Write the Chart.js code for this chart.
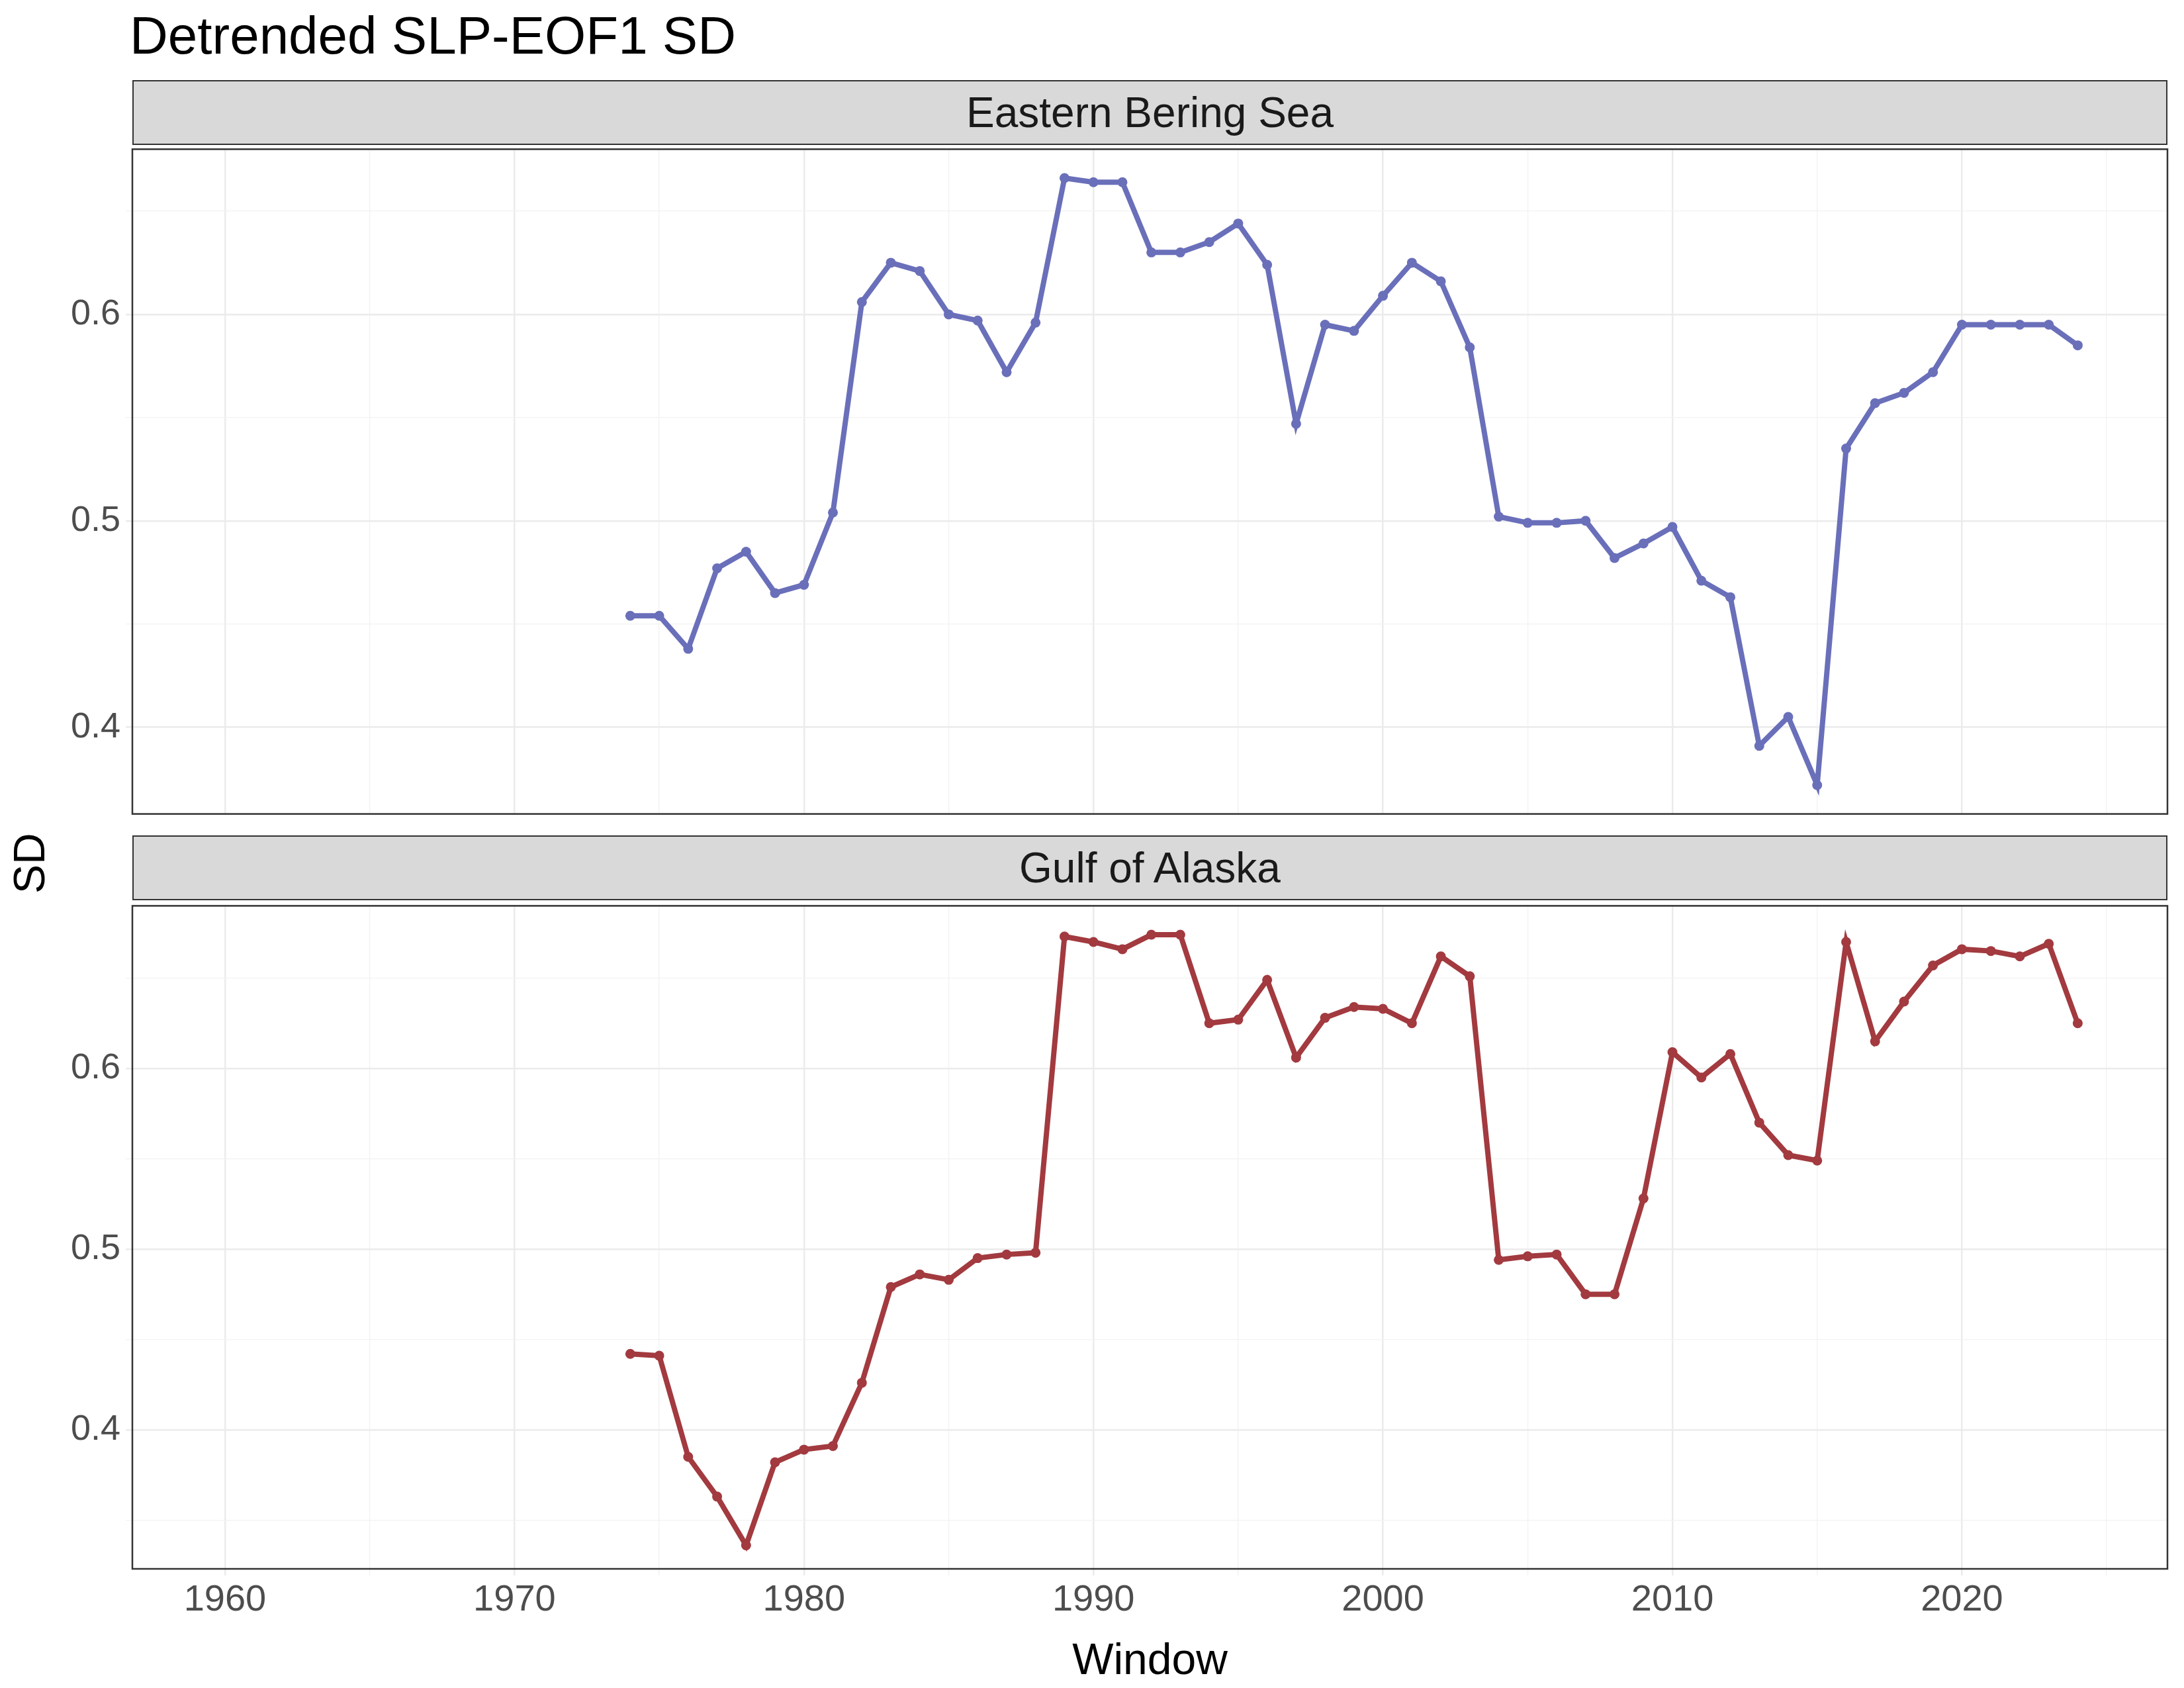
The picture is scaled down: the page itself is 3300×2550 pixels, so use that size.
<!DOCTYPE html>
<html>
<head>
<meta charset="utf-8">
<script src="https://cdn.jsdelivr.net/npm/chart.js@4.4.1/dist/chart.umd.min.js"></script>
<style>
  body { margin: 0; background: #fff; width: 3300px; height: 2550px; position: relative; overflow: hidden;
         font-family: "Liberation Sans", Arial, sans-serif; }
  .title { position: absolute; left: 196px; top: 8px; font-size: 80px; color: #000; }
  .strip { position: absolute; left: 200px; width: 3075px; background: #d9d9d9; border: 2px solid #333;
           box-sizing: border-box; text-align: center; font-size: 64px; color: #1a1a1a; }
  .ylab { position: absolute; left: 6px; font-size: 66px; transform: rotate(-90deg); transform-origin: left top; }
  canvas { position: absolute; left: 0; }
</style>
</head>
<body>
<div class="title">Detrended SLP-EOF1 SD</div>
<div class="strip" style="top:121px;height:98px;line-height:94px;">Eastern Bering Sea</div>
<div class="strip" style="top:1262px;height:98px;line-height:94px;">Gulf of Alaska</div>
<div class="ylab" style="top:1350px;">SD</div>
<canvas id="c1" style="top:185px"></canvas>
<canvas id="c2" style="top:1328px"></canvas>
<script>
const years = [];
for (let y = 1974; y <= 2024; y++) years.push(y);

const ebsSD = [0.454,0.454,0.438,0.477,0.485,0.465,0.469,0.504,0.606,0.625,0.621,0.600,0.597,0.572,0.596,
  0.666,0.664,0.664,0.630,0.630,0.635,0.644,0.624,0.547,0.595,0.592,0.609,0.625,0.616,0.584,
  0.502,0.499,0.499,0.500,0.482,0.489,0.497,0.471,0.463,0.391,0.405,0.372,0.535,0.557,0.562,0.572,
  0.595,0.595,0.595,0.595,0.585];
const goaSD = [0.442,0.441,0.385,0.363,0.336,0.382,0.389,0.391,0.426,0.479,0.486,0.483,0.495,0.497,0.498,
  0.673,0.670,0.666,0.674,0.674,0.625,0.627,0.649,0.606,0.628,0.634,0.633,0.625,0.662,0.651,
  0.494,0.496,0.497,0.475,0.475,0.528,0.609,0.595,0.608,0.570,0.552,0.549,0.670,0.615,0.637,0.657,
  0.666,0.665,0.662,0.669,0.625];

const xTicks = [1960,1965,1970,1975,1980,1985,1990,1995,2000,2005,2010,2015,2020,2025];
const yTicks = [0.35,0.4,0.45,0.5,0.55,0.6,0.65];

const isMajor = v => Math.abs(v * 10 - Math.round(v * 10)) < 1e-6;

const frame = {
  id: "frame",
  afterDraw(chart) {
    const a = chart.chartArea, ctx = chart.ctx;
    ctx.save();
    ctx.strokeStyle = "#333";
    ctx.lineWidth = 2.5;
    ctx.strokeRect(a.left, a.top, a.right - a.left, a.bottom - a.top);
    ctx.restore();
  }
};

function makeChart(id, values, color, yMin, yMax, height, showX) {
  const cv = document.getElementById(id);
  cv.width = 3300; cv.height = height;
  cv.style.width = "3300px"; cv.style.height = height + "px";
  return new Chart(cv, {
    type: "line",
    data: {
      datasets: [{
        data: years.map((y, i) => ({ x: y, y: values[i] })),
        borderColor: color,
        backgroundColor: color,
        borderWidth: 8,
        pointRadius: 7.5,
        pointBorderWidth: 0,
        tension: 0
      }]
    },
    options: {
      responsive: false,
      animation: false,
      devicePixelRatio: 1,
      layout: { padding: { top: 0, right: 25, left: 0, bottom: 0 } },
      plugins: { legend: { display: false }, tooltip: { enabled: false } },
      scales: {
        x: {
          type: "linear", min: 1956.8, max: 2027.1,
          afterBuildTicks: s => { s.ticks = xTicks.map(v => ({ value: v })); },
          afterFit: s => { s.height = showX ? 180 : 0; },
          border: { display: false },
          grid: { color: c => c.tick && c.tick.value % 10 === 0 ? "#ebebeb" : "#f2f2f2",
                  lineWidth: c => c.tick && c.tick.value % 10 === 0 ? 2.5 : 1.3, drawTicks: showX, tickLength: 10 },
          ticks: { display: showX, color: "#4d4d4d", font: { size: 56, family: "'Liberation Sans', Arial" },
                   padding: 4, maxRotation: 0,
                   callback: v => v % 10 === 0 ? String(v) : "" },
          title: { display: showX, text: "Window", color: "#000", font: { size: 66, family: "'Liberation Sans', Arial" }, padding: { top: 0, bottom: 0 } }
        },
        y: {
          min: yMin, max: yMax,
          afterBuildTicks: s => { s.ticks = yTicks.filter(v => v >= yMin && v <= yMax).map(v => ({ value: v })); },
          afterFit: s => { s.width = 200; },
          border: { display: false },
          grid: { color: c => c.tick && isMajor(c.tick.value) ? "#ebebeb" : "#f2f2f2",
                  lineWidth: c => c.tick && isMajor(c.tick.value) ? 2.5 : 1.3, tickLength: 10 },
          ticks: { color: "#4d4d4d", font: { size: 54, family: "'Liberation Sans', Arial" }, padding: 8,
                   callback: v => isMajor(v) ? v.toFixed(1) : "" }
        }
      }
    },
    plugins: [frame]
  });
}

makeChart("c1", ebsSD, "#6a6fba", 0.358, 0.680, 1085, false);
makeChart("c2", goaSD, "#a23a3f", 0.323, 0.690, 1222, true);
</script>
</body>
</html>
